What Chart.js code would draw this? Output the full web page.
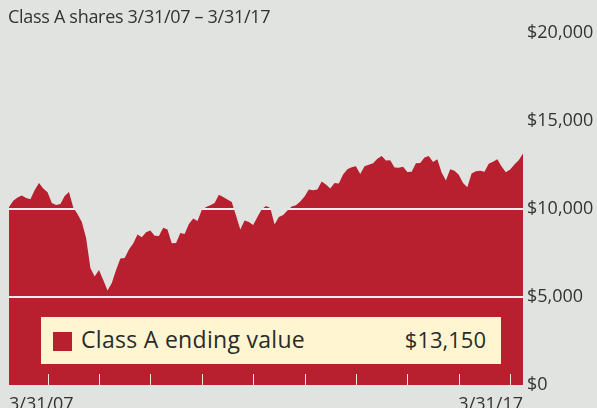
<!DOCTYPE html>
<html>
<head>
<meta charset="utf-8">
<script src="https://cdn.jsdelivr.net/npm/chart.js@4/dist/chart.umd.min.js"></script>
<style>
  html, body { margin: 0; padding: 0; background: #E1E3E0; }
  #wrap { position: relative; width: 597px; height: 408px; overflow: hidden; background: #E1E3E0; }
  #title { position: absolute; left: 8px; top: 4px; font: 18px "Open Sans", sans-serif; letter-spacing: -0.3px; color: #333; white-space: nowrap; }
  #legend { position: absolute; left: 41px; top: 317px; width: 460px; height: 47px; background: #FFF6D1; color: #2a2a2a; }
  #legend .sw { position: absolute; left: 12px; top: 15px; width: 19px; height: 19px; background: #B81F2F; }
  #legend .name { position: absolute; left: 40px; top: 6px; white-space: nowrap; font: 23px "Open Sans", sans-serif; letter-spacing: 0.3px; }
  #legend .val { position: absolute; right: 15px; top: 7px; white-space: nowrap; font: 22px "Open Sans", sans-serif; }
</style>
</head>
<body>
<div id="wrap">
  <canvas id="c" width="597" height="408"></canvas>
  <div id="title">Class A shares 3/31/07 – 3/31/17</div>
  <div id="legend"><div class="sw"></div><div class="name">Class A ending value</div><div class="val">$13,150</div></div>
</div>
<script>
// Month-end values of a $10,000 investment, 3/31/07 .. 3/31/17
const values = [
  10110, 10470, 10650, 10770, 10620, 10550, 11080, 11480, 11170, 10950,
  10340, 10230, 10280, 10740, 10970, 10090, 9720, 9260, 8350, 6650,
  6170, 6530, 5970, 5370, 5800, 6530, 7190, 7220, 7700, 8040,
  8550, 8390, 8680, 8780, 8480, 8470, 8940, 8840, 8050, 8070,
  8640, 8580, 9150, 9460, 9320, 9940, 10110, 10210, 10340, 10810,
  10680, 10540, 10400, 9630, 8840, 9350, 9260, 9090, 9550, 9980,
  10170, 10060, 9120, 9550, 9660, 9920, 10140, 10210, 10430, 10710,
  11110, 11060, 11110, 11560, 11390, 11170, 11480, 11450, 11960, 12260,
  12370, 12430, 11990, 12430, 12520, 12600, 12860, 13010, 12750, 12770,
  12360, 12340, 12400, 12100, 12120, 12600, 12610, 12930, 13010, 12670,
  12820, 12070, 11620, 12260, 12170, 11950, 11480, 11230, 12020, 12140,
  12180, 12120, 12570, 12680, 12820, 12420, 12090, 12240, 12530, 12770,
  13150
];
const startYear = 2007, startMonth = 3;            // first category: 3/31/07
const xTickLabels = ['3/31/07', '3/31/17'];         // axis labels shown
const yTicks = [0, 5000, 10000, 15000, 20000];      // y axis values
const yearEndTickMonths = [9, 21, 33, 45, 57, 69, 81, 93, 105, 117]; // 12/31 marks

const categories = values.map((_, i) => {
  const m = (startMonth - 1 + i) % 12 + 1;
  const y = startYear + Math.floor((startMonth - 1 + i) / 12);
  return m + '/' + String(y % 100).padStart(2, '0');
});

const RED = '#B81F2F';
const GRID = '#ECEDEA';
const TEXT = '#333333';
const FONT = '"Open Sans", sans-serif';

// grid lines that show only over the filled area, plus year-end marks
const overlay = {
  id: 'overlay',
  afterDatasetsDraw(chart) {
    const { ctx, chartArea, scales } = chart;
    ctx.save();
    ctx.globalCompositeOperation = 'source-atop';
    ctx.strokeStyle = GRID;
    ctx.lineWidth = 2;
    yTicks.forEach(v => {
      if (v === 0) return;
      const y = Math.round(scales.y.getPixelForValue(v));
      ctx.beginPath();
      ctx.moveTo(chartArea.left, y);
      ctx.lineTo(chartArea.right, y);
      ctx.stroke();
    });
    ctx.globalCompositeOperation = 'source-over';
    ctx.strokeStyle = '#E9E9E6';
    ctx.lineWidth = 1;
    yearEndTickMonths.forEach(i => {
      const x = Math.round(scales.x.getPixelForValue(i)) + 0.5;
      ctx.beginPath();
      ctx.moveTo(x, chartArea.bottom - 11);
      ctx.lineTo(x, chartArea.bottom);
      ctx.stroke();
    });
    ctx.restore();
  }
};

new Chart(document.getElementById('c'), {
  type: 'line',
  data: {
    labels: categories,
    datasets: [{
      data: values,
      fill: 'origin',
      backgroundColor: RED,
      borderColor: RED,
      borderWidth: 0,
      pointRadius: 0,
      tension: 0
    }]
  },
  options: {
    responsive: false,
    animation: false,
    layout: { padding: { top: 33, left: 9, right: 0, bottom: 0 } },
    plugins: { legend: { display: false }, tooltip: { enabled: false }, title: { display: false } },
    scales: {
      x: {
        type: 'category',
        offset: false,
        grid: { display: false, drawTicks: false },
        border: { display: false },
        ticks: {
          autoSkip: false,
          maxRotation: 0,
          minRotation: 0,
          align: 'inner',
          padding: 9,
          color: TEXT,
          font: { family: FONT, size: 18 },
          callback: (v, i) => i === 0 ? xTickLabels[0] : (i === values.length - 1 ? xTickLabels[1] : '')
        },
        afterFit: s => { s.height = 23; }
      },
      y: {
        position: 'right',
        min: 0,
        max: 20000,
        afterBuildTicks: s => { s.ticks = yTicks.map(v => ({ value: v })); },
        grid: { display: false, drawTicks: false },
        border: { display: false },
        ticks: {
          padding: 4,
          color: TEXT,
          font: { family: FONT, size: 18 },
          callback: v => '$' + Number(v).toLocaleString('en-US')
        },
        afterFit: s => { s.width = 74; }
      }
    }
  },
  plugins: [overlay]
});
</script>
</body>
</html>
